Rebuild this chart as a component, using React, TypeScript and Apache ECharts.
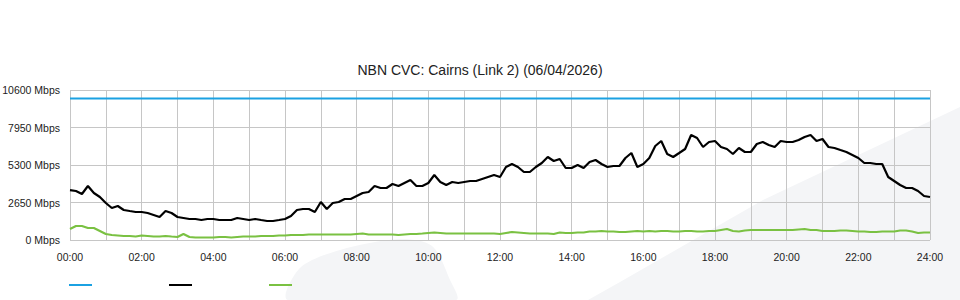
import React, { useEffect, useRef } from "react";
import * as echarts from "echarts";

const TITLE = "NBN CVC: Cairns (Link 2) (06/04/2026)";
const STEP_MINUTES = 10;
const Y_TICKS = [0, 2650, 5300, 7950, 10600];
const CAPACITY = 10000;

const downloadMbps = [
  3530, 3463, 3251, 3816, 3321, 3039, 2615, 2261, 2403, 2120,
  2049, 1979, 1979, 1908, 1767, 1625, 2049, 1908, 1625, 1555,
  1484, 1484, 1413, 1484, 1484, 1413, 1413, 1413, 1555, 1484,
  1413, 1484, 1413, 1343, 1343, 1413, 1484, 1696, 2120, 2191,
  2191, 1979, 2685, 2191, 2615, 2685, 2897, 2897, 3109, 3321,
  3392, 3816, 3675, 3675, 3957, 3816, 4028, 4240, 3816, 3816,
  4028, 4594, 4099, 3887, 4099, 4028, 4099, 4170, 4170, 4311,
  4452, 4594, 4452, 5159, 5371, 5159, 4806, 4806, 5159, 5442,
  5866, 5583, 5724, 5088, 5088, 5300, 5088, 5512, 5654, 5371,
  5159, 5230, 5230, 5795, 6148, 5159, 5371, 5795, 6643, 6996,
  6078, 5866, 6148, 6431, 7420, 7208, 6572, 6926, 6996, 6572,
  6431, 6078, 6502, 6219, 6219, 6784, 6926, 6714, 6572, 6996,
  6926, 6926, 7067, 7279, 7420, 6996, 7138, 6572, 6502, 6360,
  6219, 6007, 5795, 5442, 5442, 5371, 5371, 4452, 4170, 3887,
  3675, 3675, 3463, 3109, 3039,
];

const uploadMbps = [
  777, 989, 989, 848, 848, 636, 424, 353, 318, 283,
  283, 247, 318, 283, 247, 247, 283, 247, 212, 424,
  212, 177, 177, 177, 177, 212, 212, 177, 212, 247,
  247, 247, 283, 283, 283, 318, 318, 353, 353, 353,
  389, 389, 389, 389, 389, 389, 389, 389, 424, 459,
  389, 389, 389, 389, 389, 353, 389, 424, 424, 459,
  495, 530, 495, 459, 459, 459, 459, 459, 459, 459,
  459, 459, 424, 495, 565, 530, 495, 459, 459, 459,
  459, 424, 530, 495, 495, 530, 530, 601, 601, 636,
  601, 601, 565, 565, 601, 636, 601, 636, 601, 636,
  636, 601, 601, 636, 636, 601, 601, 636, 636, 707,
  777, 636, 601, 671, 707, 707, 707, 707, 707, 707,
  707, 707, 742, 777, 707, 707, 636, 636, 636, 671,
  671, 636, 601, 601, 565, 565, 601, 601, 601, 671,
  671, 601, 495, 530, 530,
];

const minutes = downloadMbps.map((_, i) => i * STEP_MINUTES);
const capacitySeries = minutes.map((m) => [m, CAPACITY]);
const downloadSeries = minutes.map((m, i) => [m, downloadMbps[i]]);
const uploadSeries = minutes.map((m, i) => [m, uploadMbps[i]]);

const BLUE = "#1ba1e2";
const BLACK = "#000000";
const GREEN = "#7ac142";
const GRID = "#c6c6c6";
const BG_SHAPE = "#f4f5f7";

export default function App() {
  const ref = useRef<HTMLDivElement>(null);
  useEffect(() => {
    if (!ref.current) return;
    const chart = echarts.init(ref.current, null, { renderer: "svg" });
    const font = "'Liberation Sans', Arial, sans-serif";
    chart.setOption({
      animation: false,
      backgroundColor: "#ffffff",
      textStyle: { fontFamily: font },
      title: {
        text: TITLE,
        left: "center",
        top: 63,
        padding: 0,
        textStyle: { fontSize: 14, fontWeight: "normal", color: "#222", fontFamily: font },
      },
      graphic: [
        {
          type: "polygon",
          z: -10,
          silent: true,
          shape: { points: [[588, 300], [620, 282], [763, 200], [960, 107], [960, 300]] },
          style: { fill: BG_SHAPE },
        },
        {
          type: "polygon",
          z: -10,
          silent: true,
          shape: {
            points: [[288, 300], [300, 268], [340, 250], [400, 239], [432, 246], [450, 280], [456, 300]],
            smooth: 0.3,
          },
          style: { fill: BG_SHAPE },
        },
        { type: "line", shape: { x1: 69, y1: 285, x2: 92, y2: 285 }, style: { stroke: BLUE, lineWidth: 2 } },
        { type: "line", shape: { x1: 169, y1: 285, x2: 192, y2: 285 }, style: { stroke: BLACK, lineWidth: 2 } },
        { type: "line", shape: { x1: 269, y1: 285, x2: 292, y2: 285 }, style: { stroke: GREEN, lineWidth: 2 } },
      ],
      grid: {
        left: 70,
        right: 30,
        top: 90,
        bottom: 60,
        containLabel: false,
        outerBoundsMode: "none",
      },
      xAxis: {
        type: "value",
        min: 0,
        max: 1440,
        interval: 60,
        axisLine: { show: false },
        axisTick: { show: false },
        axisLabel: {
          fontSize: 10.5,
          color: "#222",
          margin: 11,
          formatter: (v: number) => {
            if (v % 120 !== 0) return "";
            const h = Math.round(v / 60);
            return (h < 10 ? "0" : "") + h + ":00";
          },
        },
        splitLine: { show: true, lineStyle: { color: GRID, width: 1 } },
      },
      yAxis: {
        type: "value",
        min: Y_TICKS[0],
        max: Y_TICKS[Y_TICKS.length - 1],
        interval: Y_TICKS[1] - Y_TICKS[0],
        axisLine: { show: false },
        axisTick: { show: false },
        axisLabel: {
          fontSize: 10.5,
          color: "#222",
          margin: 10,
          formatter: (v: number) => `${v} Mbps`,
        },
        splitLine: { show: true, lineStyle: { color: GRID, width: 1 } },
      },
      series: [
        {
          name: "Capacity",
          type: "line",
          data: capacitySeries,
          showSymbol: false,
          lineStyle: { color: BLUE, width: 2 },
          itemStyle: { color: BLUE },
        },
        {
          name: "Download",
          type: "line",
          data: downloadSeries,
          showSymbol: false,
          lineStyle: { color: BLACK, width: 2.2 },
          itemStyle: { color: BLACK },
        },
        {
          name: "Upload",
          type: "line",
          data: uploadSeries,
          showSymbol: false,
          lineStyle: { color: GREEN, width: 2.2 },
          itemStyle: { color: GREEN },
        },
      ],
    });
    return () => chart.dispose();
  }, []);
  return (
    <div
      ref={ref}
      style={{ position: "fixed", left: 0, top: 0, width: 960, height: 300 }}
    />
  );
}
